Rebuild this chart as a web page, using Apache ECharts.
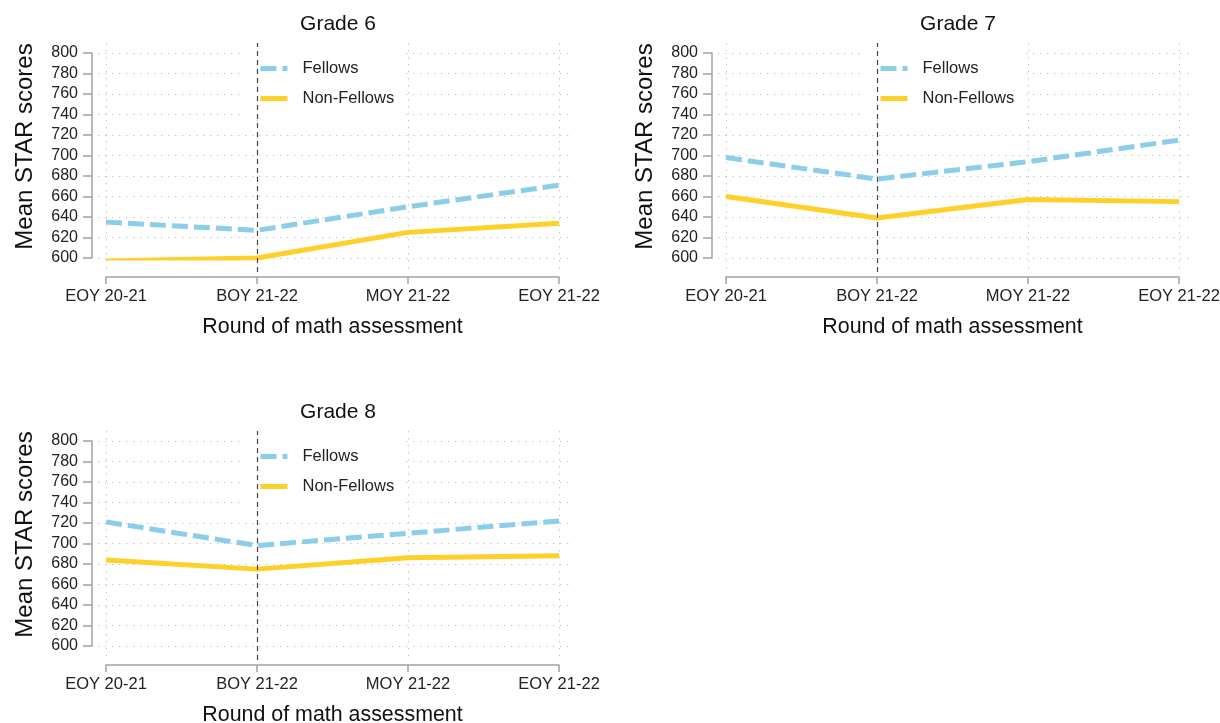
<!DOCTYPE html>
<html>
<head>
<meta charset="utf-8">
<script src="https://cdn.jsdelivr.net/npm/echarts@6/dist/echarts.min.js"></script>
<style>
html,body{margin:0;padding:0;background:#fff;}
#chart{width:1220px;height:723px;}
</style>
</head>
<body>
<div id="chart"></div>
<script>
// ---- Data ----
const categories = ['EOY 20-21', 'BOY 21-22', 'MOY 21-22', 'EOY 21-22'];
const yTicks = [600, 620, 640, 660, 680, 700, 720, 740, 760, 780, 800];
const panelTitles = ['Grade 6', 'Grade 7', 'Grade 8'];
const seriesNames = ['Fellows', 'Non-Fellows'];
const grade6Fellows = [635, 627, 650, 671];
const grade6NonFellows = [597, 600, 625, 634];
const grade7Fellows = [698, 677, 694, 715];
const grade7NonFellows = [660, 639, 657, 655];
const grade8Fellows = [721, 698, 710, 722];
const grade8NonFellows = [684, 675, 686, 688];
const markerCategory = 'BOY 21-22';
const xAxisTitle = 'Round of math assessment';
const yAxisTitle = 'Mean STAR scores';

// ---- Layout / style ----
const FONT = "'Liberation Sans', Arial, Helvetica, sans-serif";
const panels = [
  { dx: 0, dy: 0, f: grade6Fellows, n: grade6NonFellows },
  { dx: 620, dy: 0, f: grade7Fellows, n: grade7NonFellows },
  { dx: 0, dy: 388, f: grade8Fellows, n: grade8NonFellows }
];
const inner = { left: 106, top: 53, width: 453, height: 205 };
const pad = { left: 8, right: 11, top: 10, bottom: 14 };
const blue = '#8CCDEA', yellow = '#FFD02A';
const axisColor = '#a3a3a3';
const gridStyle = { color: '#c4c4c4', width: 1, type: [1.4, 5.6] };

const yMin = yTicks[0], yMax = yTicks[yTicks.length - 1];
const pxPerX = inner.width / (categories.length - 1);
const pxPerY = inner.height / (yMax - yMin);
const xIdx = categories.map((c, i) => i);

const option = {
  animation: false,
  backgroundColor: '#fff',
  textStyle: { fontFamily: FONT },
  title: [], legend: [], grid: [], xAxis: [], yAxis: [], series: []
};

panels.forEach((p, k) => {
  const gA = 2 * k, gG = 2 * k + 1;
  option.title.push({
    text: panelTitles[k],
    left: 333 + p.dx,
    textAlign: 'center',
    top: 9 + p.dy,
    textStyle: { fontSize: 21, fontWeight: 'normal', color: '#111', fontFamily: FONT }
  });
  // data grid
  option.grid.push({
    left: inner.left + p.dx, top: inner.top + p.dy, width: inner.width, height: inner.height,
    containLabel: false, outerBoundsMode: 'none'
  });
  // extended grid for gridlines
  option.grid.push({
    left: inner.left - pad.left + p.dx, top: inner.top - pad.top + p.dy,
    width: inner.width + pad.left + pad.right, height: inner.height + pad.top + pad.bottom,
    containLabel: false, outerBoundsMode: 'none'
  });
  option.xAxis.push({
    type: 'category', gridIndex: gA, data: categories, boundaryGap: false, offset: 19,
    axisLine: { show: true, lineStyle: { color: axisColor, width: 1.5 } },
    axisTick: { show: true, length: 7, lineStyle: { color: axisColor, width: 1.5 } },
    axisLabel: { interval: 0, fontSize: 16.5, color: '#222', margin: 11, fontFamily: FONT },
    splitLine: { show: false },
    name: xAxisTitle, nameLocation: 'middle', nameGap: 40, nameMoveOverlap: false,
    nameTextStyle: { fontSize: 21.4, color: '#111', fontFamily: FONT }
  });
  option.xAxis.push({
    type: 'value', gridIndex: gG,
    min: -pad.left / pxPerX, max: (categories.length - 1) + pad.right / pxPerX,
    axisLine: { show: false },
    axisTick: { show: false, customValues: xIdx },
    axisLabel: { show: false, customValues: xIdx },
    splitLine: { show: true, lineStyle: gridStyle }
  });
  option.yAxis.push({
    type: 'value', gridIndex: gA, min: yMin, max: yMax, interval: 20, offset: 14,
    axisLine: { show: true, lineStyle: { color: axisColor, width: 1.5 } },
    axisTick: { show: true, length: 9, lineStyle: { color: axisColor, width: 1.5 } },
    axisLabel: { fontSize: 16, color: '#222', margin: 14, fontFamily: FONT },
    splitLine: { show: false },
    name: yAxisTitle, nameLocation: 'middle', nameGap: 55, nameMoveOverlap: false,
    nameTextStyle: { fontSize: 24, color: '#111', fontFamily: FONT, padding: [0, 0, 0, 18] }
  });
  option.yAxis.push({
    type: 'value', gridIndex: gG,
    min: yMin - pad.bottom / pxPerY, max: yMax + pad.top / pxPerY,
    axisLine: { show: false },
    axisTick: { show: false, customValues: yTicks },
    axisLabel: { show: false, customValues: yTicks },
    splitLine: { show: true, lineStyle: gridStyle }
  });
  // vertical reference line
  option.series.push({
    type: 'line', xAxisIndex: gG, yAxisIndex: gG, data: [], silent: true,
    markLine: {
      silent: true, symbol: 'none', animation: false,
      label: { show: false },
      lineStyle: { color: '#444', width: 1.2, type: [5, 4] },
      data: [{ xAxis: categories.indexOf(markerCategory) }]
    }
  });
  option.series.push({
    name: seriesNames[0], type: 'line', xAxisIndex: gA, yAxisIndex: gA, data: p.f,
    symbol: 'none', z: 3,
    lineStyle: { color: blue, width: 5, type: [16, 6], cap: 'butt' },
    itemStyle: { color: blue }
  });
  option.series.push({
    name: seriesNames[1], type: 'line', xAxisIndex: gA, yAxisIndex: gA, data: p.n,
    symbol: 'none', z: 3,
    lineStyle: { color: yellow, width: 5 },
    itemStyle: { color: yellow }
  });
  option.legend.push({
    data: seriesNames, orient: 'vertical',
    left: 243 + p.dx, top: 44 + p.dy,
    padding: [16, 12, 8, 15],
    itemWidth: 27, itemHeight: 14, itemGap: 13,
    backgroundColor: '#fff',
    selectedMode: false,
    itemStyle: { opacity: 0 },
    lineStyle: { width: 5 },
    textStyle: { fontSize: 16.5, color: '#222', fontFamily: FONT, padding: [0, 0, 0, 10] }
  });
});

const chart = echarts.init(document.getElementById('chart'));
chart.setOption(option);
</script>
</body>
</html>
